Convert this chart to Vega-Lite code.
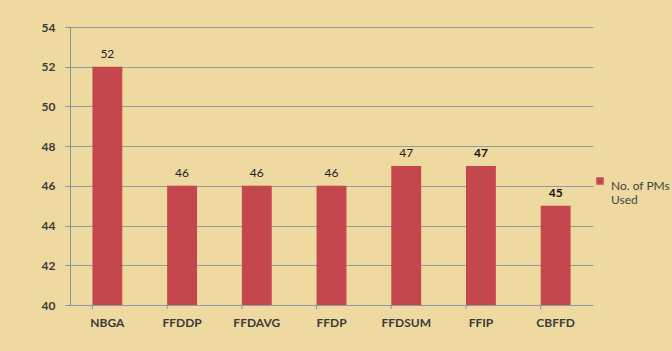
{
  "$schema": "https://vega.github.io/schema/vega-lite/v6.json",
  "width": 523,
  "height": 278,
  "autosize": {"type": "none"},
  "padding": {"left": 70, "top": 27, "right": 79, "bottom": 46},
  "background": "#eedaa1",
  "config": {
    "view": {"stroke": null},
    "font": "Lato",
    "axis": {"domainColor": "#8592a3", "tickColor": "#8592a3", "gridColor": "#8592a3", "gridOpacity": 0.9, "labelColor": "#3a3a3a", "labelFont": "Lato", "labelFontSize": 12, "labelFontWeight": "bold"}
  },
  "data": {
    "values": [
      {"method": "NBGA", "pms": 52, "emphasis": "normal"},
      {"method": "FFDDP", "pms": 46, "emphasis": "normal"},
      {"method": "FFDAVG", "pms": 46, "emphasis": "normal"},
      {"method": "FFDP", "pms": 46, "emphasis": "normal"},
      {"method": "FFDSUM", "pms": 47, "emphasis": "normal"},
      {"method": "FFIP", "pms": 47, "emphasis": "bold"},
      {"method": "CBFFD", "pms": 45, "emphasis": "bold"}
    ]
  },
  "encoding": {
    "x": {
      "field": "method",
      "type": "nominal",
      "sort": null,
      "scale": {"paddingInner": 0.6, "paddingOuter": 0.3},
      "axis": {"title": null, "labelAngle": 0, "ticks": false, "domain": false, "labelPadding": 12}
    },
    "y": {
      "field": "pms",
      "type": "quantitative",
      "scale": {"domain": [40, 54], "nice": false, "zero": false},
      "axis": {"title": null, "values": [40, 42, 44, 46, 48, 50, 52, 54], "tickSize": 5, "labelPadding": 10, "grid": true}
    }
  },
  "layer": [
    {
      "mark": {"type": "bar", "color": "#c4474e"},
      "encoding": {
        "y2": {"datum": 40},
        "color": {
          "datum": "No. of PMs Used",
          "scale": {"range": ["#c4474e"]},
          "legend": {
            "title": null,
            "orient": "none",
            "legendX": 524,
            "legendY": 148,
            "symbolType": "square",
            "symbolSize": 56,
            "symbolStrokeWidth": 0,
            "labelFontSize": 12,
            "labelColor": "#444444",
            "labelFont": "Lato",
            "labelBaseline": "top",
            "labelOffset": 5,
            "labelLimit": 200,
            "labelExpr": "['No. of PMs', 'Used']"
          }
        }
      }
    },
    {
      "transform": [{"filter": "datum.emphasis === 'normal'"}],
      "mark": {"type": "text", "baseline": "bottom", "dy": -6, "fontSize": 12, "fontWeight": "normal", "color": "#222222"},
      "encoding": {"text": {"field": "pms", "type": "quantitative"}}
    },
    {
      "transform": [{"filter": "datum.emphasis === 'bold'"}],
      "mark": {"type": "text", "baseline": "bottom", "dy": -6, "fontSize": 12, "fontWeight": "bold", "color": "#111111"},
      "encoding": {"text": {"field": "pms", "type": "quantitative"}}
    },
    {
      "mark": {"type": "rule", "color": "#8592a3"},
      "encoding": {"y": {"datum": 40}}
    },
    {
      "mark": {"type": "rule", "color": "#8592a3"},
      "encoding": {
        "x": {"field": "method", "type": "nominal", "sort": null, "bandPosition": 0},
        "y": {"datum": 40},
        "y2": {"datum": 39.8}
      }
    }
  ]
}
